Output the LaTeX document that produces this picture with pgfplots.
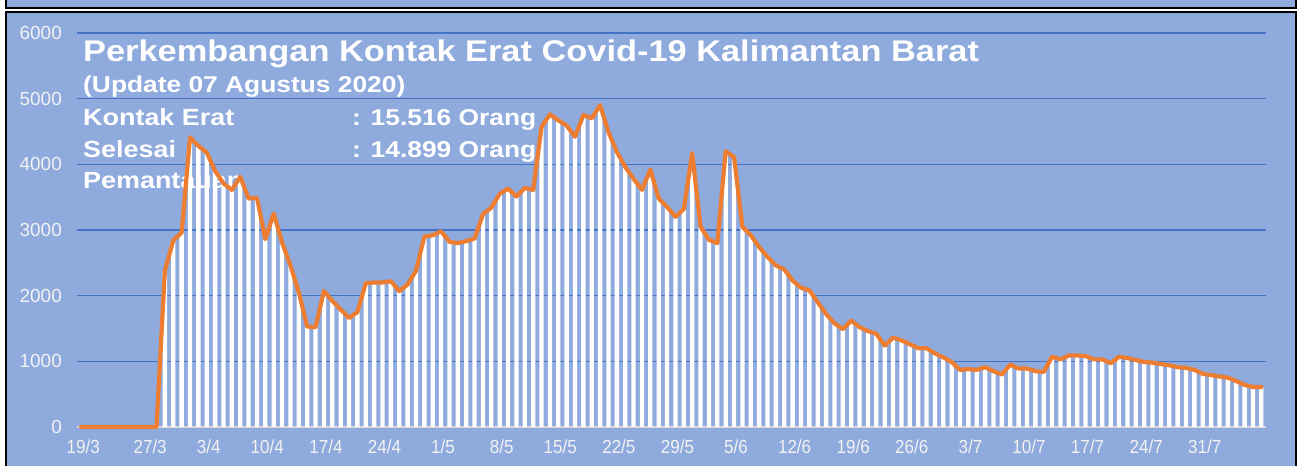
\documentclass[border=0pt]{standalone}
\usepackage{pgfplots}
\pgfplotsset{compat=1.18}
\usepackage{pgfplotstable}
\usepackage{fontspec}
\setmainfont{Liberation Sans}
\newfontfamily\titlefont[FakeStretch=1.15]{Liberation Sans}
\newfontfamily\narrowfont[FakeStretch=0.9]{Liberation Sans}
\definecolor{bg}{HTML}{8FAADC}
\definecolor{gridc}{HTML}{4472C4}
\definecolor{lineor}{HTML}{ED7D31}
\definecolor{axc}{HTML}{D9D9D9}
\definecolor{lbl}{HTML}{F2F2F2}

\pgfplotstableread{
i v
0 0
1 0
2 0
3 0
4 0
5 0
6 0
7 0
8 0
9 0
10 2380
11 2840
12 2960
13 4410
14 4280
15 4180
16 3900
17 3710
18 3610
19 3810
20 3480
21 3490
22 2860
23 3250
24 2810
25 2460
26 2050
27 1530
28 1520
29 2070
30 1920
31 1790
32 1660
33 1750
34 2190
35 2200
36 2200
37 2220
38 2070
39 2170
40 2380
41 2900
42 2920
43 2980
44 2820
45 2800
46 2830
47 2870
48 3240
49 3340
50 3550
51 3630
52 3510
53 3640
54 3610
55 4570
56 4760
57 4670
58 4590
59 4420
60 4750
61 4700
62 4900
63 4490
64 4190
65 3960
66 3780
67 3610
68 3920
69 3480
70 3350
71 3200
72 3320
73 4170
74 3050
75 2850
76 2800
77 4200
78 4110
79 3050
80 2920
81 2740
82 2590
83 2460
84 2400
85 2230
86 2120
87 2080
88 1900
89 1720
90 1580
91 1490
92 1620
93 1520
94 1460
95 1420
96 1240
97 1360
98 1320
99 1260
100 1200
101 1200
102 1120
103 1060
104 990
105 870
106 880
107 870
108 910
109 850
110 800
111 950
112 890
113 890
114 850
115 840
116 1070
117 1030
118 1090
119 1090
120 1080
121 1030
122 1030
123 970
124 1070
125 1050
126 1020
127 990
128 980
129 960
130 940
131 910
132 900
133 870
134 810
135 790
136 770
137 750
138 700
139 640
140 610
141 610
}\datatable

\begin{document}
\begin{tikzpicture}[x=1bp,y=1bp]
\useasboundingbox (0,0) rectangle (1301,466);
\fill[white] (0,0) rectangle (1301,466);
\filldraw[fill=bg, draw=black, line width=2bp] (6,458) rectangle (1296,475);
\filldraw[fill=bg, draw=black, line width=2.5bp] (6,454) rectangle (1296,-10);
% grid and tick labels
\begin{axis}[at={(77bp,39bp)}, anchor=south west, width=1188.5bp, height=394bp, scale only axis,
  xmin=-0.5, xmax=141.5, ymin=0, ymax=6000,
  axis line style={draw=none}, major tick length=0pt,
  ytick={0,1000,2000,3000,4000,5000,6000}, ymajorgrids,
  grid style={gridc, line width=1.5bp},
  xtick={0,8,15,22,29,36,43,50,57,64,71,78,85,92,99,106,113,120,127,134},
  xticklabels={19/3,27/3,3/4,10/4,17/4,24/4,1/5,8/5,15/5,22/5,29/5,5/6,12/6,19/6,26/6,3/7,10/7,17/7,24/7,31/7},
  tick label style={text=lbl, inner sep=0pt},
  yticklabel style={font=\fontsize{19}{22}\selectfont, anchor=east, xshift=-15bp},
  xticklabel style={font=\narrowfont\fontsize{19}{22}\selectfont, anchor=north, yshift=-13bp, xshift=2bp},
  /pgf/number format/assume math mode=true,
  /pgf/number format/1000 sep={},
  scaled y ticks=false,
]
\end{axis}
% text
\begin{scope}[every node/.style={anchor=base west, inner sep=0pt, text=white}]
\node[font=\titlefont\bfseries\fontsize{30}{32}\selectfont] at (83,404.3) {Perkembangan Kontak Erat Covid-19 Kalimantan Barat};
\node[font=\titlefont\bfseries\fontsize{23}{26}\selectfont] at (83,373) {(Update 07 Agustus 2020)};
\node[font=\titlefont\bfseries\fontsize{23.5}{26}\selectfont] at (83,340) {Kontak Erat};
\node[font=\titlefont\bfseries\fontsize{23.5}{26}\selectfont] at (83,308.7) {Selesai};
\node[font=\titlefont\bfseries\fontsize{23.5}{26}\selectfont] at (83,277.7) {Pemantauan};
\node[font=\titlefont\bfseries\fontsize{23}{26}\selectfont] at (352,340) {: 15.516 Orang};
\node[font=\titlefont\bfseries\fontsize{23}{26}\selectfont] at (352,308.7) {: 14.899 Orang};
\end{scope}
% data
\begin{axis}[at={(77bp,39bp)}, anchor=south west, width=1188.5bp, height=394bp, scale only axis,
  xmin=-0.5, xmax=141.5, ymin=0, ymax=6000, clip=false,
  axis x line=bottom, axis y line=none, xtick=\empty, ytick=\empty,
  x axis line style={draw=axc, line width=1.5bp, -},
]
\addplot[ybar, bar width=4.3bp, fill=white, draw=none] table[x=i,y=v]{\datatable};
\addplot[lineor, line width=4.2bp, line join=round, line cap=round, no marks] table[x=i,y=v]{\datatable};
\end{axis}
\end{tikzpicture}
\end{document}
